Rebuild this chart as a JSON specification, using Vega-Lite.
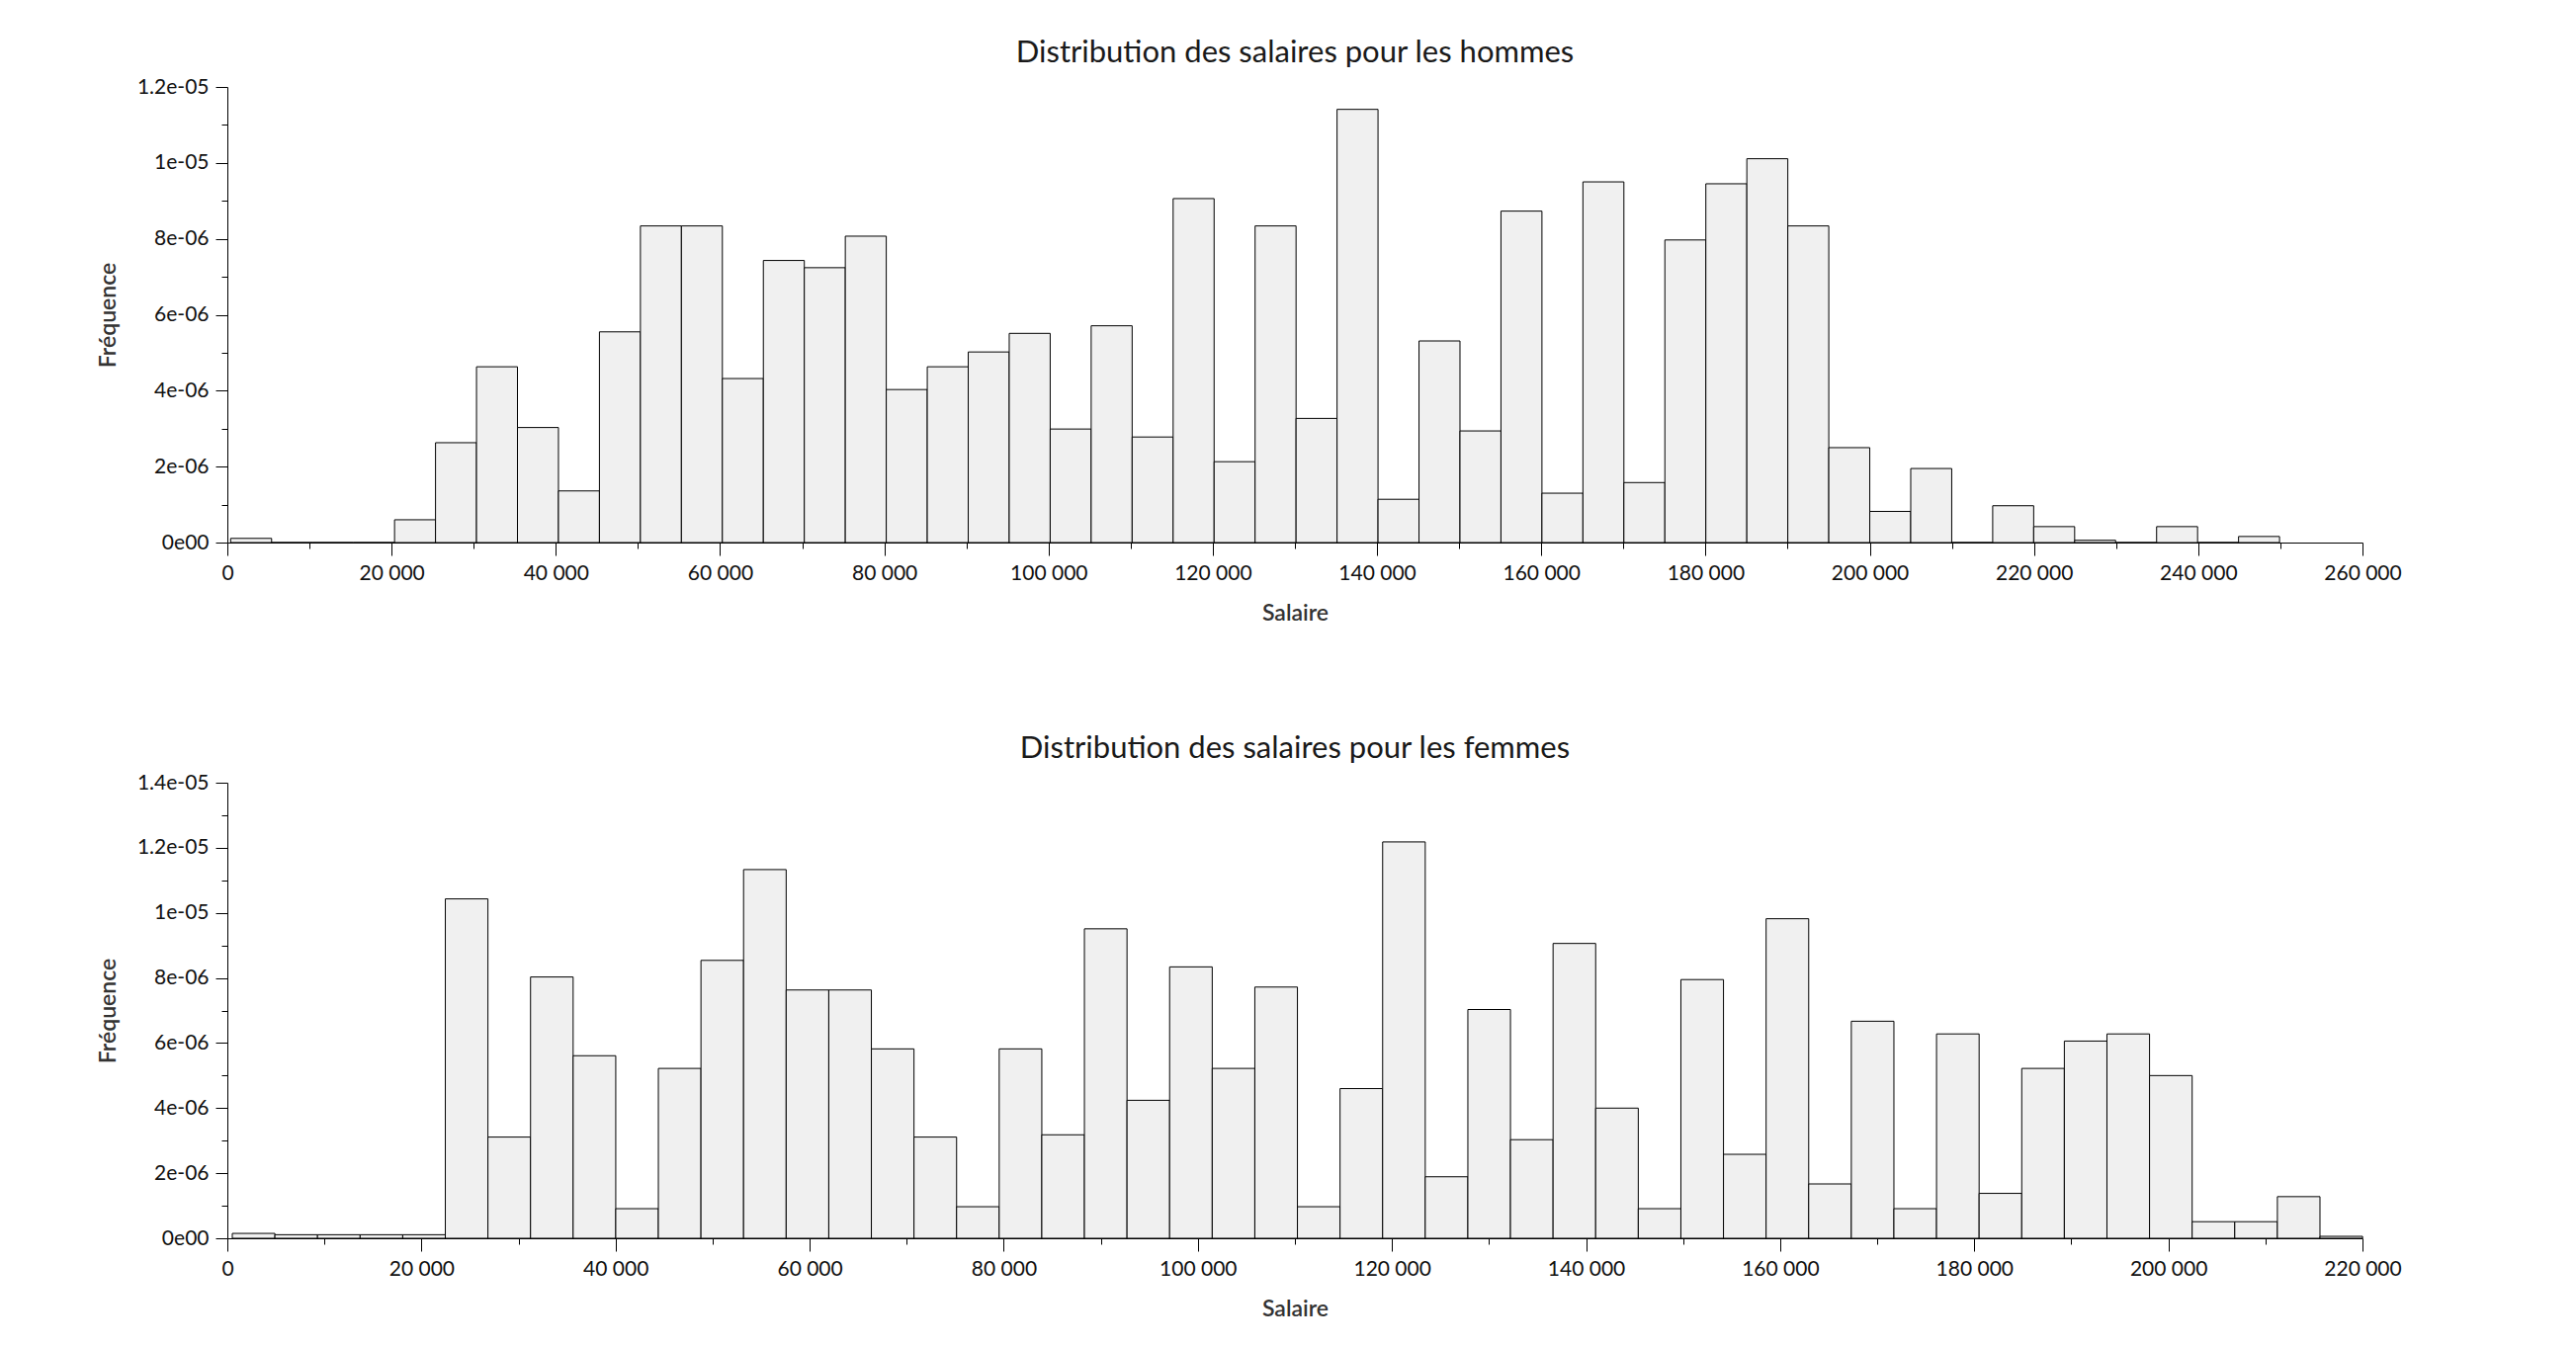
{
  "$schema": "https://vega.github.io/schema/vega-lite/v6.json",
  "background": "white",
  "padding": {"left": 98, "top": 38, "right": 20, "bottom": 10},
  "autosize": {"type": "pad"},
  "spacing": 110,
  "datasets": {
    "hommes": [
      {"x0": 400, "x1": 5390, "freq": 1.1e-7},
      {"x0": 5390, "x1": 10380, "freq": 0},
      {"x0": 10380, "x1": 15370, "freq": 0},
      {"x0": 15370, "x1": 20360, "freq": 0},
      {"x0": 20360, "x1": 25350, "freq": 6.0e-7},
      {"x0": 25350, "x1": 30340, "freq": 2.63e-6},
      {"x0": 30340, "x1": 35330, "freq": 4.63e-6},
      {"x0": 35330, "x1": 40320, "freq": 3.03e-6},
      {"x0": 40320, "x1": 45310, "freq": 1.36e-6},
      {"x0": 45310, "x1": 50300, "freq": 5.55e-6},
      {"x0": 50300, "x1": 55290, "freq": 8.34e-6},
      {"x0": 55290, "x1": 60280, "freq": 8.34e-6},
      {"x0": 60280, "x1": 65270, "freq": 4.32e-6},
      {"x0": 65270, "x1": 70260, "freq": 7.43e-6},
      {"x0": 70260, "x1": 75250, "freq": 7.24e-6},
      {"x0": 75250, "x1": 80240, "freq": 8.07e-6},
      {"x0": 80240, "x1": 85230, "freq": 4.03e-6},
      {"x0": 85230, "x1": 90220, "freq": 4.63e-6},
      {"x0": 90220, "x1": 95210, "freq": 5.02e-6},
      {"x0": 95210, "x1": 100200, "freq": 5.51e-6},
      {"x0": 100200, "x1": 105190, "freq": 2.99e-6},
      {"x0": 105190, "x1": 110180, "freq": 5.71e-6},
      {"x0": 110180, "x1": 115170, "freq": 2.78e-6},
      {"x0": 115170, "x1": 120160, "freq": 9.06e-6},
      {"x0": 120160, "x1": 125150, "freq": 2.13e-6},
      {"x0": 125150, "x1": 130140, "freq": 8.34e-6},
      {"x0": 130140, "x1": 135130, "freq": 3.27e-6},
      {"x0": 135130, "x1": 140120, "freq": 1.141e-5},
      {"x0": 140120, "x1": 145110, "freq": 1.14e-6},
      {"x0": 145110, "x1": 150100, "freq": 5.31e-6},
      {"x0": 150100, "x1": 155090, "freq": 2.94e-6},
      {"x0": 155090, "x1": 160080, "freq": 8.73e-6},
      {"x0": 160080, "x1": 165070, "freq": 1.30e-6},
      {"x0": 165070, "x1": 170060, "freq": 9.50e-6},
      {"x0": 170060, "x1": 175050, "freq": 1.58e-6},
      {"x0": 175050, "x1": 180040, "freq": 7.97e-6},
      {"x0": 180040, "x1": 185030, "freq": 9.45e-6},
      {"x0": 185030, "x1": 190020, "freq": 1.011e-5},
      {"x0": 190020, "x1": 195010, "freq": 8.34e-6},
      {"x0": 195010, "x1": 200000, "freq": 2.50e-6},
      {"x0": 200000, "x1": 204990, "freq": 8.2e-7},
      {"x0": 204990, "x1": 209980, "freq": 1.95e-6},
      {"x0": 209980, "x1": 214970, "freq": 0},
      {"x0": 214970, "x1": 219960, "freq": 9.7e-7},
      {"x0": 219960, "x1": 224950, "freq": 4.2e-7},
      {"x0": 224950, "x1": 229940, "freq": 6e-8},
      {"x0": 229940, "x1": 234930, "freq": 0},
      {"x0": 234930, "x1": 239920, "freq": 4.2e-7},
      {"x0": 239920, "x1": 244910, "freq": 0},
      {"x0": 244910, "x1": 249900, "freq": 1.6e-7}
    ],
    "femmes": [
      {"x0": 510, "x1": 4900, "freq": 1.5e-7},
      {"x0": 4900, "x1": 9290, "freq": 1.1e-7},
      {"x0": 9290, "x1": 13680, "freq": 1.1e-7},
      {"x0": 13680, "x1": 18070, "freq": 1.1e-7},
      {"x0": 18070, "x1": 22460, "freq": 1.1e-7},
      {"x0": 22460, "x1": 26850, "freq": 1.043e-5},
      {"x0": 26850, "x1": 31240, "freq": 3.11e-6},
      {"x0": 31240, "x1": 35630, "freq": 8.03e-6},
      {"x0": 35630, "x1": 40020, "freq": 5.61e-6},
      {"x0": 40020, "x1": 44410, "freq": 9.1e-7},
      {"x0": 44410, "x1": 48800, "freq": 5.22e-6},
      {"x0": 48800, "x1": 53190, "freq": 8.54e-6},
      {"x0": 53190, "x1": 57580, "freq": 1.133e-5},
      {"x0": 57580, "x1": 61970, "freq": 7.63e-6},
      {"x0": 61970, "x1": 66360, "freq": 7.63e-6},
      {"x0": 66360, "x1": 70750, "freq": 5.82e-6},
      {"x0": 70750, "x1": 75140, "freq": 3.11e-6},
      {"x0": 75140, "x1": 79530, "freq": 9.7e-7},
      {"x0": 79530, "x1": 83920, "freq": 5.82e-6},
      {"x0": 83920, "x1": 88310, "freq": 3.18e-6},
      {"x0": 88310, "x1": 92700, "freq": 9.51e-6},
      {"x0": 92700, "x1": 97090, "freq": 4.24e-6},
      {"x0": 97090, "x1": 101480, "freq": 8.34e-6},
      {"x0": 101480, "x1": 105870, "freq": 5.22e-6},
      {"x0": 105870, "x1": 110260, "freq": 7.72e-6},
      {"x0": 110260, "x1": 114650, "freq": 9.7e-7},
      {"x0": 114650, "x1": 119040, "freq": 4.60e-6},
      {"x0": 119040, "x1": 123430, "freq": 1.218e-5},
      {"x0": 123430, "x1": 127820, "freq": 1.89e-6},
      {"x0": 127820, "x1": 132210, "freq": 7.03e-6},
      {"x0": 132210, "x1": 136600, "freq": 3.03e-6},
      {"x0": 136600, "x1": 140990, "freq": 9.06e-6},
      {"x0": 140990, "x1": 145380, "freq": 4.00e-6},
      {"x0": 145380, "x1": 149770, "freq": 9.1e-7},
      {"x0": 149770, "x1": 154160, "freq": 7.95e-6},
      {"x0": 154160, "x1": 158550, "freq": 2.58e-6},
      {"x0": 158550, "x1": 162940, "freq": 9.82e-6},
      {"x0": 162940, "x1": 167330, "freq": 1.67e-6},
      {"x0": 167330, "x1": 171720, "freq": 6.67e-6},
      {"x0": 171720, "x1": 176110, "freq": 9.1e-7},
      {"x0": 176110, "x1": 180500, "freq": 6.28e-6},
      {"x0": 180500, "x1": 184890, "freq": 1.38e-6},
      {"x0": 184890, "x1": 189280, "freq": 5.22e-6},
      {"x0": 189280, "x1": 193670, "freq": 6.06e-6},
      {"x0": 193670, "x1": 198060, "freq": 6.28e-6},
      {"x0": 198060, "x1": 202450, "freq": 5.00e-6},
      {"x0": 202450, "x1": 206840, "freq": 5.1e-7},
      {"x0": 206840, "x1": 211230, "freq": 5.1e-7},
      {"x0": 211230, "x1": 215620, "freq": 1.28e-6},
      {"x0": 215620, "x1": 220010, "freq": 6e-8}
    ]
  },
  "config": {
    "view": {"stroke": null},
    "font": "Lato",
    "title": {"fontSize": 31, "fontWeight": "normal", "color": "#1a1a1a", "offset": 7, "anchor": "middle", "font": "Lato"},
    "axis": {
      "domainColor": "#000",
      "domainWidth": 1,
      "tickColor": "#000",
      "tickWidth": 1,
      "labelFont": "Lato",
      "labelFontSize": 21,
      "labelColor": "#111",
      "labelPadding": 7,
      "titleFont": "Lato",
      "titleFontSize": 23,
      "titleFontWeight": 600,
      "titleColor": "#333",
      "grid": false,
      "labelOverlap": false,
      "labelFlush": false
    },
    "axisX": {"titlePadding": 19},
    "axisY": {"titlePadding": 17}
  },
  "vconcat": [
    {
      "width": 2160,
      "height": 461,
      "title": "Distribution des salaires pour les hommes",
      "data": {"name": "hommes"},
      "mark": {"type": "bar", "fill": "#f0f0f0", "stroke": "#000", "strokeWidth": 1},
      "encoding": {
        "x": {
          "field": "x0", "type": "quantitative",
          "scale": {"domain": [0, 260000], "nice": false, "zero": true},
          "axis": {
            "title": "Salaire",
            "values": [0, 10000, 20000, 30000, 40000, 50000, 60000, 70000, 80000, 90000, 100000, 110000, 120000, 130000, 140000, 150000, 160000, 170000, 180000, 190000, 200000, 210000, 220000, 230000, 240000, 250000, 260000],
            "labelExpr": "datum.value % 20000 === 0 ? replace(format(datum.value, ','), regexp(',', 'g'), ' ') : ''",
            "tickSize": {"condition": {"test": "datum.value % 20000 === 0", "value": 13}, "value": 6}
          }
        },
        "x2": {"field": "x1"},
        "y": {
          "field": "freq", "type": "quantitative",
          "scale": {"domain": [0, 1.2e-5], "nice": false},
          "axis": {
            "title": "Fréquence",
            "values": [0, 1e-6, 2e-6, 3e-6, 4e-6, 5e-6, 6e-6, 7e-6, 8e-6, 9e-6, 1e-5, 1.1e-5, 1.2e-5],
            "labelExpr": "datum.value === 0 ? '0e00' : (round(datum.value * 1e6) % 2 === 0 ? replace(format(datum.value, '~e'), 'e-', 'e-0') : '')",
            "tickSize": {"condition": {"test": "round(datum.value * 1e6) % 2 === 0", "value": 12}, "value": 6}
          }
        },
        "y2": {"datum": 0}
      }
    },
    {
      "width": 2160,
      "height": 461,
      "title": "Distribution des salaires pour les femmes",
      "data": {"name": "femmes"},
      "mark": {"type": "bar", "fill": "#f0f0f0", "stroke": "#000", "strokeWidth": 1},
      "encoding": {
        "x": {
          "field": "x0", "type": "quantitative",
          "scale": {"domain": [0, 220000], "nice": false, "zero": true},
          "axis": {
            "title": "Salaire",
            "values": [0, 10000, 20000, 30000, 40000, 50000, 60000, 70000, 80000, 90000, 100000, 110000, 120000, 130000, 140000, 150000, 160000, 170000, 180000, 190000, 200000, 210000, 220000],
            "labelExpr": "datum.value % 20000 === 0 ? replace(format(datum.value, ','), regexp(',', 'g'), ' ') : ''",
            "tickSize": {"condition": {"test": "datum.value % 20000 === 0", "value": 13}, "value": 6}
          }
        },
        "x2": {"field": "x1"},
        "y": {
          "field": "freq", "type": "quantitative",
          "scale": {"domain": [0, 1.4e-5], "nice": false},
          "axis": {
            "title": "Fréquence",
            "values": [0, 1e-6, 2e-6, 3e-6, 4e-6, 5e-6, 6e-6, 7e-6, 8e-6, 9e-6, 1e-5, 1.1e-5, 1.2e-5, 1.3e-5, 1.4e-5],
            "labelExpr": "datum.value === 0 ? '0e00' : (round(datum.value * 1e6) % 2 === 0 ? replace(format(datum.value, '~e'), 'e-', 'e-0') : '')",
            "tickSize": {"condition": {"test": "round(datum.value * 1e6) % 2 === 0", "value": 12}, "value": 6}
          }
        },
        "y2": {"datum": 0}
      }
    }
  ]
}
